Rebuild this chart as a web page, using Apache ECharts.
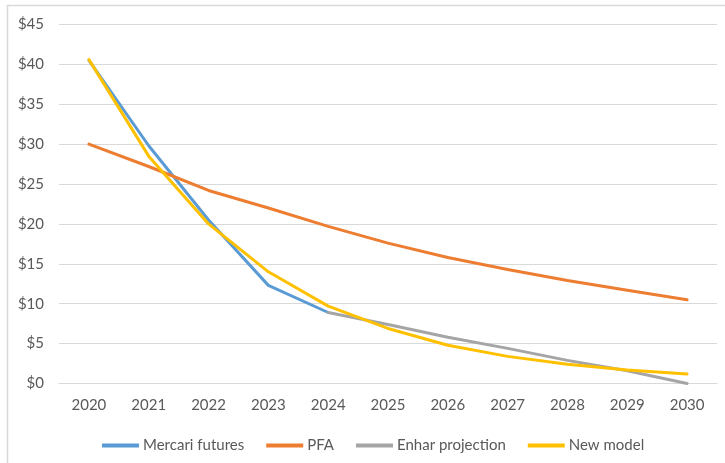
<!DOCTYPE html>
<html>
<head>
<meta charset="utf-8">
<script src="https://cdn.jsdelivr.net/npm/echarts@6/dist/echarts.min.js"></script>
<style>
  html, body { margin: 0; padding: 0; background: #fff; }
  #chart { width: 725px; height: 463px; }
</style>
</head>
<body>
<div id="chart"></div>
<script>
// Price outlook by year, 2020–2030
const years = ['2020', '2021', '2022', '2023', '2024', '2025', '2026', '2027', '2028', '2029', '2030'];
const mercariFutures = [40.5, 29.8, 20.5, 12.3, 8.9, null, null, null, null, null, null];
const pfa = [30.0, 27.2, 24.2, 22.0, 19.7, 17.6, 15.8, 14.3, 12.9, 11.7, 10.5];
const enharProjection = [null, null, null, null, 8.9, 7.4, 5.8, 4.4, 2.9, 1.6, 0.0];
const newModel = [40.6, 28.5, 20.0, 14.0, 9.7, 6.9, 4.8, 3.4, 2.4, 1.7, 1.2];

const textColor = '#595959';
const gridColor = '#d9d9d9';
const font = 'Lato, "Open Sans", sans-serif';

function lineSeries(name, data, color) {
  return {
    name: name,
    type: 'line',
    data: data,
    symbol: 'none',
    smooth: false,
    connectNulls: false,
    lineStyle: { color: color, width: 3, cap: 'round', join: 'round' },
    itemStyle: { color: color },
    emphasis: { disabled: true }
  };
}

const chart = echarts.init(document.getElementById('chart'), null, { renderer: 'canvas' });
chart.setOption({
  animation: false,
  backgroundColor: '#ffffff',
  textStyle: { fontFamily: font },
  graphic: [{
    type: 'rect',
    shape: { x: 7.5, y: 5.5, width: 800, height: 600 },
    style: { fill: 'none', stroke: gridColor, lineWidth: 1.5 },
    silent: true
  }],
  grid: { left: 59, right: 8, top: 24.5, bottom: 79.5, containLabel: false },
  legend: {
    left: 97,
    top: 433,
    icon: 'rect',
    itemWidth: 37,
    itemHeight: 4,
    itemGap: 22,
    textStyle: { color: textColor, fontSize: 15, fontFamily: font, padding: [0, 0, 0, -1] },
    data: ['Mercari futures', 'PFA', 'Enhar projection', 'New model']
  },
  xAxis: {
    type: 'category',
    data: years,
    boundaryGap: true,
    axisLine: { show: true, lineStyle: { color: gridColor, width: 1 } },
    axisTick: { show: false },
    axisLabel: { color: textColor, fontSize: 15, margin: 14, fontFamily: font }
  },
  yAxis: {
    type: 'value',
    min: 0,
    max: 45,
    interval: 5,
    axisLine: { show: false },
    axisTick: { show: false },
    splitLine: { lineStyle: { color: gridColor, width: 1 } },
    axisLabel: {
      color: textColor,
      fontSize: 15,
      margin: 15,
      fontFamily: font,
      formatter: v => '$' + v
    }
  },
  series: [
    lineSeries('Mercari futures', mercariFutures, '#5B9BD5'),
    lineSeries('PFA', pfa, '#ED7D31'),
    lineSeries('Enhar projection', enharProjection, '#A5A5A5'),
    lineSeries('New model', newModel, '#FFC000')
  ]
});
</script>
</body>
</html>
